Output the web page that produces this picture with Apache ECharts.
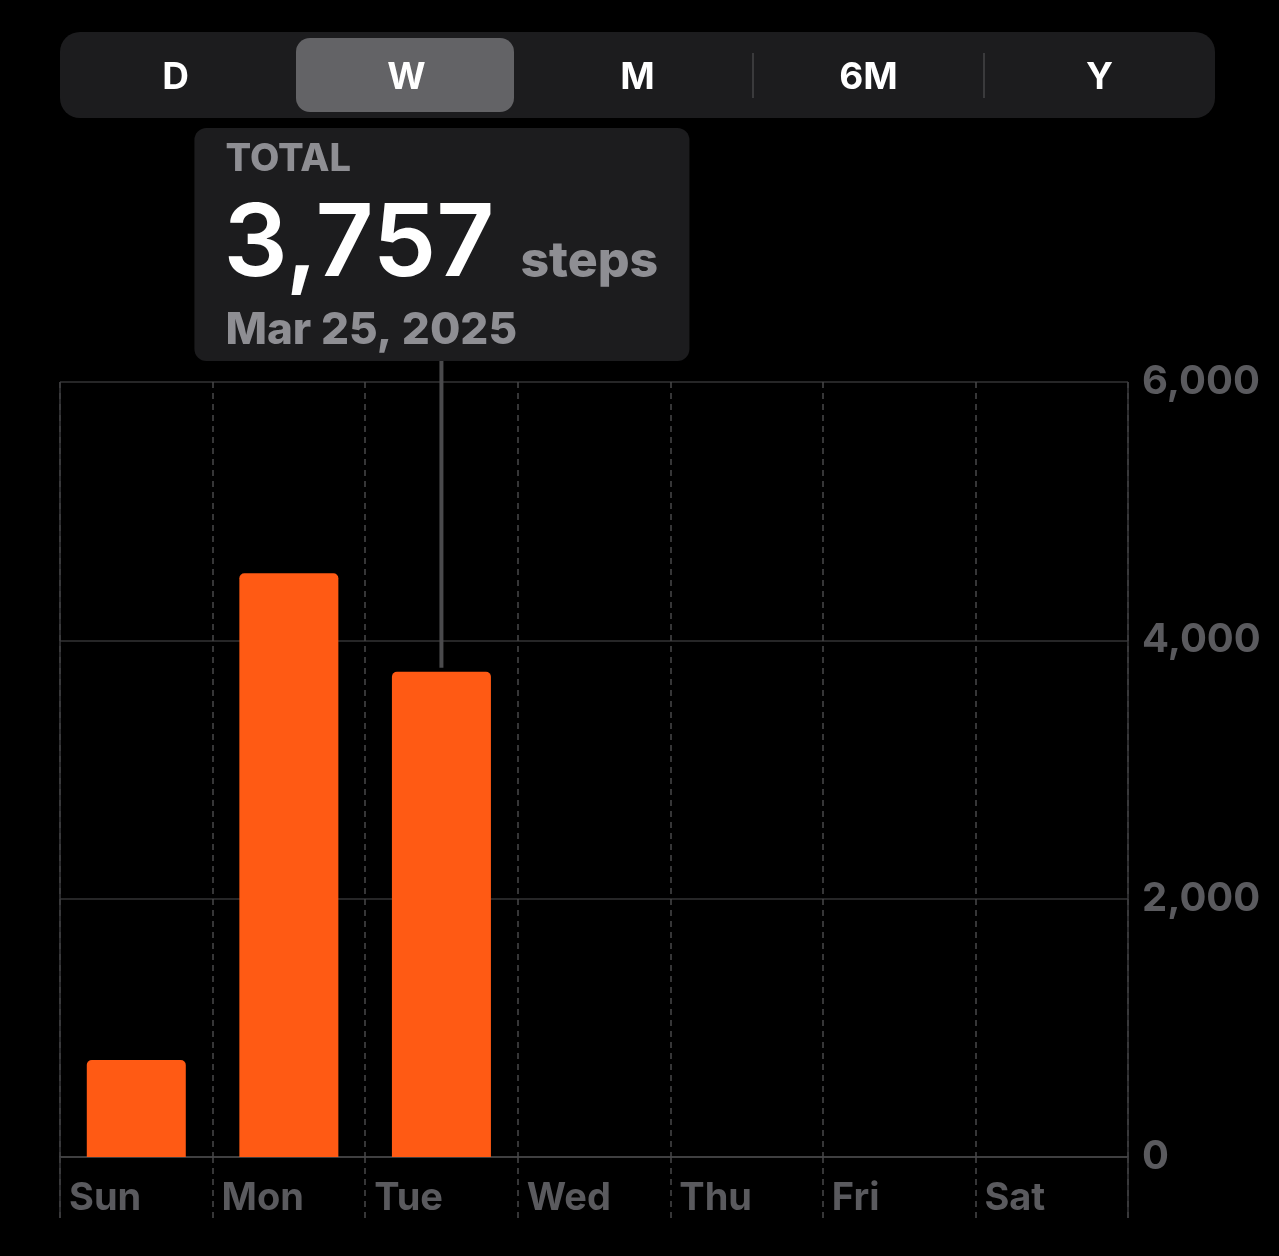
<!DOCTYPE html>
<html><head><meta charset="utf-8">
<script src="https://cdn.jsdelivr.net/npm/echarts@6/dist/echarts.min.js"></script>
<style>html,body{margin:0;padding:0;background:#000;}#c{width:1279px;height:1256px;}</style>
</head><body><div id="c"></div>
<script>
// ---- data ----
const days = ['Sun', 'Mon', 'Tue', 'Wed', 'Thu', 'Fri', 'Sat'];
const steps = [751, 4520, 3757, null, null, null, null];
const yTicks = [0, 2000, 4000, 6000];
const ranges = ['D', 'W', 'M', '6M', 'Y'];
const selectedRange = 'W';
const selectedDay = 2;
const tipTitle = 'TOTAL';
const tipValue = '3,757';
const tipUnit = 'steps';
const tipDate = 'Mar 25, 2025';

// ---- styles ----
const FONT = 'Inter, "Noto Sans", sans-serif';
const gridCol = '#3a3a3c';
const dashCol = '#48484a';
const axisText = '#5a5a5e';
const orange = '#ff5a14';

const chart = echarts.init(document.getElementById('c'), null, {renderer: 'canvas'});

const gridL = 60, gridR = 151, gridT = 382, gridB = 99;

const option = {
  backgroundColor: '#000',
  animation: false,
  grid: {left: gridL, right: gridR, top: gridT, bottom: gridB, containLabel: false, outerBoundsMode: 'none'},
  xAxis: [
    {
      type: 'category', data: days, boundaryGap: true, position: 'bottom',
      axisLine: {show: true, lineStyle: {color: '#48484a', width: 1.5}},
      axisTick: {show: true, length: 61, lineStyle: {color: dashCol, width: 1.5, type: [6, 5]}},
      axisLabel: {show: false},
      splitLine: {show: true, lineStyle: {color: dashCol, width: 1.5, type: [6, 5]}}
    },
    {
      type: 'value', min: 0, max: days.length, interval: 1, position: 'bottom',
      axisLine: {show: false}, axisTick: {show: false}, splitLine: {show: false},
      axisLabel: {
        show: true, formatter: v => days[v] || '', align: 'left', padding: [0, 0, 0, 9],
        color: axisText, fontSize: 38, fontWeight: 700, fontFamily: FONT, margin: 22, lineHeight: 40
      }
    },
    {
      type: 'value', min: 0, max: days.length, interval: days.length, position: 'bottom',
      axisLine: {show: false}, axisLabel: {show: false},
      axisTick: {show: true, length: 61, lineStyle: {color: gridCol, width: 1.5, type: 'solid'}},
      splitLine: {show: true, lineStyle: {color: gridCol, width: 1.5, type: 'solid'}}
    }
  ],
  yAxis: {
    type: 'value', position: 'right', min: yTicks[0], max: yTicks[yTicks.length - 1],
    interval: yTicks[1] - yTicks[0],
    axisLine: {show: false}, axisTick: {show: false},
    splitLine: {show: true, lineStyle: {color: '#333335', width: 1.5}},
    axisLabel: {
      margin: 14, color: axisText, fontSize: 40, fontWeight: 700, fontFamily: FONT,
      padding: [6, 0, 0, 0],
      formatter: v => v.toLocaleString('en-US')
    }
  },
  series: [{
    type: 'bar', xAxisIndex: 0, yAxisIndex: 0, data: steps, barWidth: 99,
    itemStyle: {color: orange, borderRadius: [5, 5, 0, 0]}
  }]
};
chart.setOption(option);

// ---- decorations: segmented control & selection callout ----
const segX = 60, segW = 1155, segY = 32, segH = 86;
const segItemW = segW / ranges.length;
const selIdx = ranges.indexOf(selectedRange);
const gfx = [];
gfx.push({type: 'rect', shape: {x: segX, y: segY, width: segW, height: segH, r: 20}, style: {fill: '#1c1c1e'}, silent: true});
gfx.push({type: 'rect', shape: {x: segX + selIdx * segItemW + 5, y: segY + 6, width: segItemW - 13, height: segH - 12, r: 14}, style: {fill: '#636366'}, silent: true});
ranges.forEach((r, i) => {
  gfx.push({type: 'text', style: {text: r, x: segX + (i + 0.5) * segItemW, y: 78, align: 'center', verticalAlign: 'middle',
    fill: '#fff', font: '700 37px ' + FONT}, silent: true});
  if (i > 0 && i !== selIdx && i !== selIdx + 1) {
    gfx.push({type: 'rect', shape: {x: segX + i * segItemW - 1, y: 53, width: 2, height: 45}, style: {fill: '#3a3a3c'}, silent: true});
  }
});

const p = chart.convertToPixel({xAxisIndex: 0, yAxisIndex: 0}, [selectedDay, steps[selectedDay]]);
const boxW = 495, boxH = 233, boxY = 128;
const boxX = p[0] - boxW / 2 + 0.5;
gfx.push({type: 'rect', shape: {x: p[0] - 2, y: boxY + boxH - 2, width: 4, height: p[1] - 4 - (boxY + boxH - 2)}, style: {fill: '#4a4a4c'}, silent: true});
gfx.push({type: 'rect', shape: {x: boxX, y: boxY, width: boxW, height: boxH, r: 12}, style: {fill: '#1c1c1e'}, silent: true});
const tx = boxX + 31;
gfx.push({type: 'text', style: {text: tipTitle, x: tx, y: 160, verticalAlign: 'middle', fill: '#8e8e93', font: '800 38px ' + FONT}, silent: true});
gfx.push({type: 'text', style: {text: tipValue, x: tx - 2, y: 246, verticalAlign: 'middle', fill: '#fff', font: '600 101px ' + FONT}, silent: true});
gfx.push({type: 'text', style: {text: tipUnit, x: boxX + 326, y: 262, verticalAlign: 'middle', fill: '#8e8e93', font: '800 50px ' + FONT}, silent: true});
gfx.push({type: 'text', style: {text: tipDate, x: tx, y: 331, verticalAlign: 'middle', fill: '#8e8e93', font: '800 44px ' + FONT}, silent: true});

chart.setOption({graphic: gfx});
</script>
</body></html>
